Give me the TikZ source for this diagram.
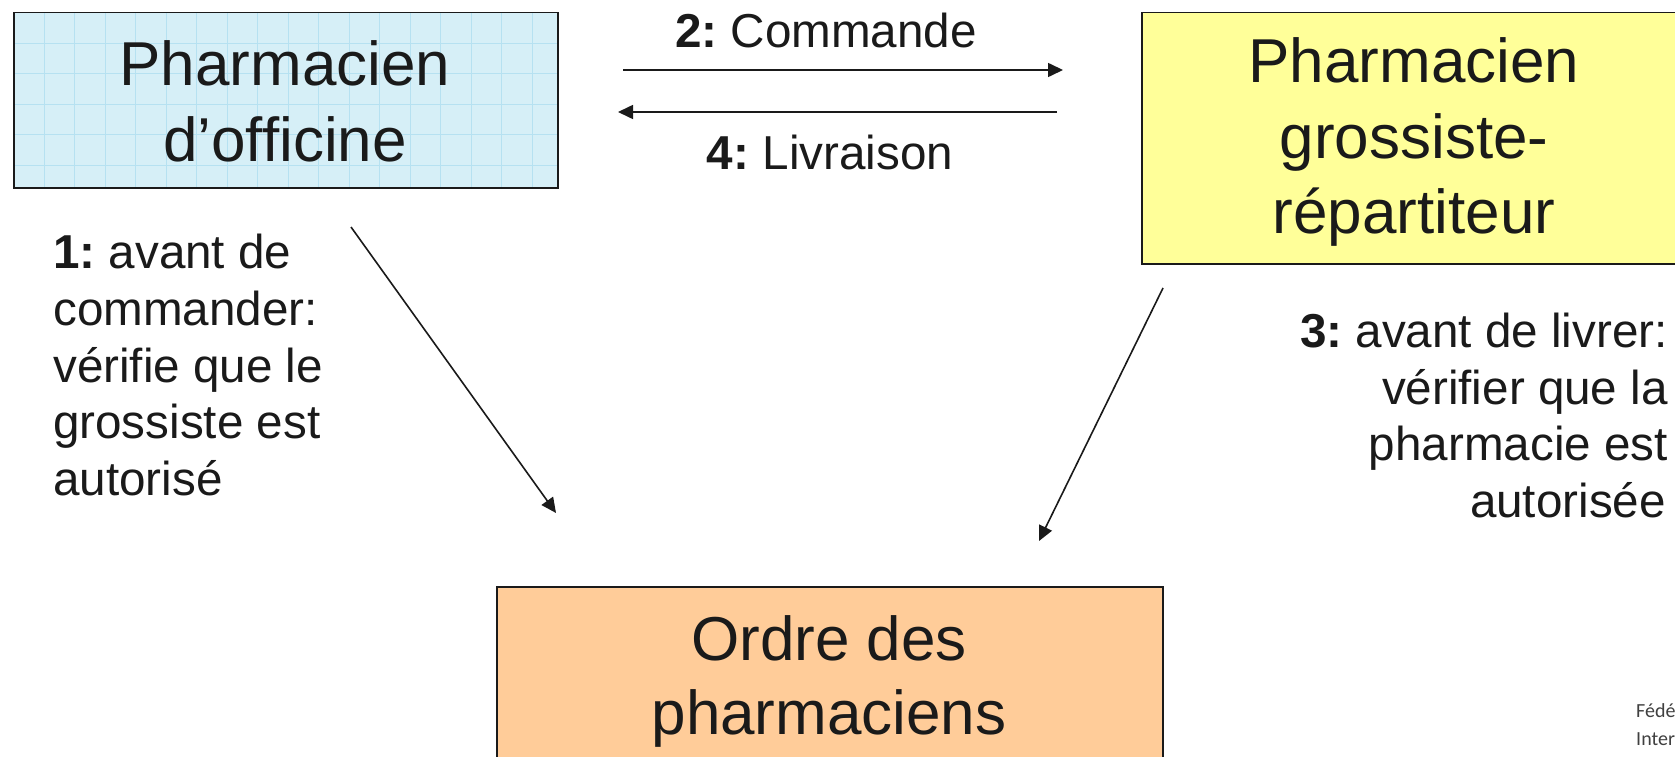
\documentclass[tikz,border=0pt]{standalone}
\usepackage{fontspec}
\setmainfont{Liberation Sans}
\newfontfamily\calib{Carlito}
\usetikzlibrary{arrows.meta}
\definecolor{ink}{HTML}{1A1A1A}
\definecolor{boxblue}{RGB}{214,239,247}
\definecolor{gridblue}{RGB}{182,225,241}
\definecolor{boxyellow}{HTML}{FFFF99}
\definecolor{boxorange}{HTML}{FFCC99}
\frenchspacing
\begin{document}
\begin{tikzpicture}[x=1pt,y=-1pt,
  boxframe/.style={draw=ink, line width=1.5pt, inner sep=0pt, anchor=north west},
  tbig/.style={font=\fontsize{62}{75}\selectfont, text=ink, anchor=base, inner sep=0pt},
  tsmall/.style={font=\fontsize{47.6}{57}\selectfont, text=ink, inner sep=0pt},
  tfoot/.style={font=\calib\fontsize{20}{24}\selectfont, text=black!75, anchor=base west, inner sep=0pt},
  conn/.style={draw=ink, line width=1.6pt, -{Triangle[length=15pt,width=14pt]}},
  gridline/.style={draw=gridblue, line width=0.8pt}]
\clip (0,0) rectangle (1675,757);
\fill[white] (0,0) rectangle (1675,757);
% boxes
\node[boxframe, fill=boxblue, minimum width=544pt, minimum height=175pt,
  path picture={
    \foreach \k in {1,...,18}{
      \draw[gridline] ([xshift=\k*30.5pt]path picture bounding box.north west) -- ([xshift=\k*30.5pt]path picture bounding box.south west);}
    \foreach \k in {1,...,6}{
      \draw[gridline] ([yshift=-\k*30.5pt]path picture bounding box.north west) -- ([yshift=-\k*30.5pt]path picture bounding box.north east);}
  }] (off) at (13,12) {};
\node[boxframe, fill=boxyellow, minimum width=546pt, minimum height=251pt] (gro) at (1141,12) {};
\node[boxframe, fill=boxorange, minimum width=666pt, minimum height=180pt] (ord) at (496,586) {};
% box texts
\node[tbig] (off1) at (285,86) {Pharmacien};
\node[tbig] (off2) at (285,161) {d’officine};
\node[tbig] (gro1) at (1414,83) {Pharmacien};
\node[tbig] (gro2) at (1414,158) {grossiste-};
\node[tbig] (gro3) at (1414,233) {répartiteur};
\node[tbig] (ord1) at (829,660) {Ordre des};
\node[tbig] (ord2) at (829,734) {pharmaciens};
% arrow labels
\node[tsmall, anchor=base] (cmd) at (826,48) {\textbf{2:} Commande};
\node[tsmall, anchor=base] (liv) at (830,169) {\textbf{4:} Livraison};
\node[tsmall, anchor=base west] (n1a) at (53,268) {\textbf{1:} avant de};
\node[tsmall, anchor=base west] (n1b) at (53,325) {commander:};
\node[tsmall, anchor=base west] (n1c) at (53,382) {vérifie que le};
\node[tsmall, anchor=base west] (n1d) at (53,438) {grossiste est};
\node[tsmall, anchor=base west] (n1e) at (53,495) {autorisé};
\node[tsmall, anchor=base east] (n3a) at (1668,347) {\textbf{3:} avant de livrer:};
\node[tsmall, anchor=base east] (n3b) at (1668,404) {vérifier que la};
\node[tsmall, anchor=base east] (n3c) at (1668,460) {pharmacie est};
\node[tsmall, anchor=base east] (n3d) at (1666,517) {autorisée};
% footer fragment
\node[tfoot] (fed1) at (1636,717) {Fédé};
\node[tfoot] (fed2) at (1636,745) {Inter};
% connectors
\coordinate (cmdS) at (623,70);
\coordinate (cmdE) at (1063,70);
\coordinate (livS) at (1057,112);
\coordinate (livE) at (618,112);
\coordinate (d1S) at (351,227);
\coordinate (d1E) at (556,513);
\coordinate (d2S) at (1163,288);
\coordinate (d2E) at (1039,541);
\draw[conn] (cmdS) -- (cmdE);
\draw[conn] (livS) -- (livE);
\draw[conn] (d1S) -- (d1E);
\draw[conn] (d2S) -- (d2E);
\end{tikzpicture}
\end{document}
